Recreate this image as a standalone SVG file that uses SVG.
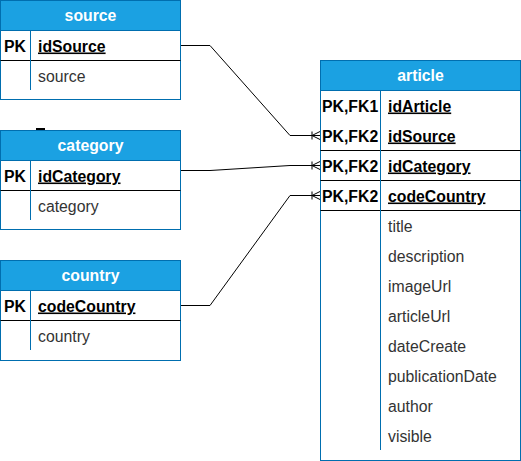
<svg xmlns="http://www.w3.org/2000/svg" width="521" height="461" viewBox="0 0 521 461">
<style>
text{font-family:"Liberation Sans",Arial,sans-serif;font-size:15.8px;fill:#000}
.hd{fill:#fff;font-weight:bold;text-anchor:middle}
.k{font-weight:bold}
.u{text-decoration:underline}
.at{fill:#333}
.box{fill:#fff;stroke:#006EAF;stroke-width:1}
.head{fill:#1BA1E2;stroke:#006EAF;stroke-width:1}
.sep{stroke:#000;stroke-width:1}
.div{stroke:#006EAF;stroke-width:1}
.con{fill:none;stroke:#000;stroke-width:1}
</style>
<defs>
<marker id="many" viewBox="0 0 10 10" refX="10" refY="5" markerWidth="10" markerHeight="10" markerUnits="userSpaceOnUse" orient="auto">
<path d="M2 1V9M2 5L10 1M2 5L10 9" fill="none" stroke="#000" stroke-width="1"/>
</marker>
</defs>
<g id="connectors">
<path class="con" d="M180.5 45.5H210L290 135.5H320" marker-end="url(#many)"/>
<path class="con" d="M180.5 170.5H210L290 165.5H320" marker-end="url(#many)"/>
<path class="con" d="M180.5 305.5H210L290 195.5H320" marker-end="url(#many)"/>
<path d="M36 129H45" stroke="#000" stroke-width="2"/>
</g>
<g id="source">
<rect class="box" x="0.5" y="0.5" width="180" height="99"/>
<rect class="head" x="0.5" y="0.5" width="180" height="30"/>
<text class="hd" x="90.5" y="21">source</text>
<line class="sep" x1="0.5" y1="60.5" x2="180.5" y2="60.5"/>
<line class="div" x1="30.5" y1="30.5" x2="30.5" y2="90"/>
<text class="k" x="4" y="51.5">PK</text>
<text class="k u" x="38" y="51.5">idSource</text>
<text class="at" x="38" y="81.5">source</text>
</g>
<g id="category">
<rect class="box" x="0.5" y="130.5" width="180" height="99"/>
<rect class="head" x="0.5" y="130.5" width="180" height="30"/>
<text class="hd" x="90.5" y="151">category</text>
<line class="sep" x1="0.5" y1="190.5" x2="180.5" y2="190.5"/>
<line class="div" x1="30.5" y1="160.5" x2="30.5" y2="220"/>
<text class="k" x="4" y="181.5">PK</text>
<text class="k u" x="38" y="181.5">idCategory</text>
<text class="at" x="38" y="211.5">category</text>
</g>
<g id="country">
<rect class="box" x="0.5" y="260.5" width="180" height="100"/>
<rect class="head" x="0.5" y="260.5" width="180" height="30"/>
<text class="hd" x="90.5" y="281">country</text>
<line class="sep" x1="0.5" y1="320.5" x2="180.5" y2="320.5"/>
<line class="div" x1="30.5" y1="290.5" x2="30.5" y2="350"/>
<text class="k" x="4" y="311.5">PK</text>
<text class="k u" x="38" y="311.5">codeCountry</text>
<text class="at" x="38" y="341.5">country</text>
</g>
<g id="article">
<rect class="box" x="320.5" y="60.5" width="200" height="400"/>
<rect class="head" x="320.5" y="60.5" width="200" height="30"/>
<text class="hd" x="420.5" y="81">article</text>
<line class="sep" x1="320.5" y1="150.5" x2="520.5" y2="150.5"/>
<line class="sep" x1="320.5" y1="180.5" x2="520.5" y2="180.5"/>
<line class="sep" x1="320.5" y1="210.5" x2="520.5" y2="210.5"/>
<line class="div" x1="380.5" y1="90.5" x2="380.5" y2="450"/>
<text class="k" x="322" y="111.5">PK,FK1</text>
<text class="k u" x="388" y="111.5">idArticle</text>
<text class="k" x="322" y="141.5">PK,FK2</text>
<text class="k u" x="388" y="141.5">idSource</text>
<text class="k" x="322" y="171.5">PK,FK2</text>
<text class="k u" x="388" y="171.5">idCategory</text>
<text class="k" x="322" y="201.5">PK,FK2</text>
<text class="k u" x="388" y="201.5">codeCountry</text>
<text class="at" x="388" y="231.5">title</text>
<text class="at" x="388" y="261.5">description</text>
<text class="at" x="388" y="291.5">imageUrl</text>
<text class="at" x="388" y="321.5">articleUrl</text>
<text class="at" x="388" y="351.5">dateCreate</text>
<text class="at" x="388" y="381.5">publicationDate</text>
<text class="at" x="388" y="411.5">author</text>
<text class="at" x="388" y="441.5">visible</text>
</g>
</svg>
